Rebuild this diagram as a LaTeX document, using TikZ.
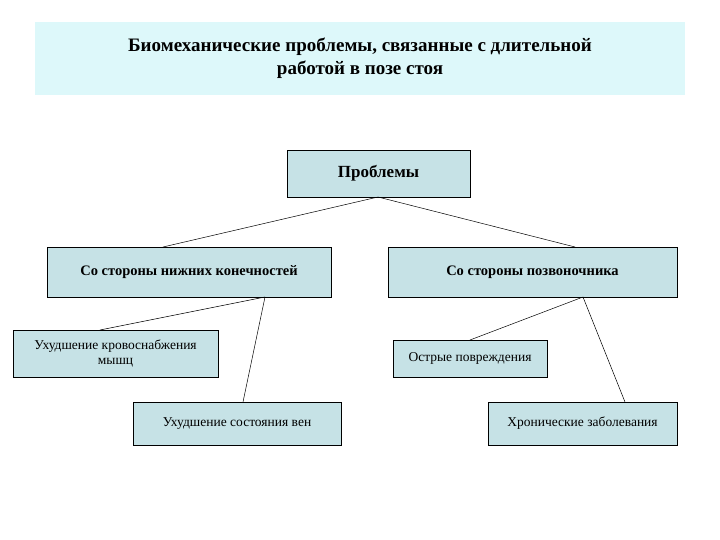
\documentclass[tikz,border=0pt]{standalone}
\usepackage{fontspec}
\setmainfont{Liberation Serif}
\begin{document}
\begin{tikzpicture}[x=1pt,y=-1pt,
  bx/.style={draw=black,fill=boxc,line width=0.8pt},
  ln/.style={draw=black,line width=0.5pt}]
\definecolor{boxc}{HTML}{C6E2E6}
\definecolor{titc}{HTML}{DDF8FA}
\useasboundingbox (0,0) rectangle (720,540);
\fill[white] (0,0) rectangle (720,540);
\fill[titc] (35,22) rectangle (685,95);
\node[font=\bfseries\fontsize{19}{23}\selectfont,align=center] (t) at (360,58) {Биомеханические проблемы, связанные с длительной\\работой в позе стоя};
\draw[bx] (287,150) rectangle (470,197);
\node[font=\bfseries\fontsize{17}{20}\selectfont] (p) at (378.5,173.5) {Проблемы};
\draw[bx] (47,247) rectangle (331,297);
\node[font=\bfseries\fontsize{14.5}{17}\selectfont] (l) at (189,272) {Со стороны нижних конечностей};
\draw[bx] (388,247) rectangle (677,297);
\node[font=\bfseries\fontsize{14.5}{17}\selectfont] (r) at (532.5,272) {Со стороны позвоночника};
\draw[bx] (13,330) rectangle (218,377);
\node[font=\fontsize{13.5}{15}\selectfont,align=center] (l1) at (115.5,353.5) {Ухудшение кровоснабжения\\мышц};
\draw[bx] (133,402) rectangle (341,445);
\node[font=\fontsize{13.5}{15}\selectfont] (l2) at (237,423.5) {Ухудшение состояния вен};
\draw[bx] (393,340) rectangle (547,377);
\node[font=\fontsize{13.5}{15}\selectfont] (r1) at (470,358.5) {Острые повреждения};
\draw[bx] (488,402) rectangle (677,445);
\node[font=\fontsize{13.5}{15}\selectfont] (r2) at (582.5,423.5) {Хронические заболевания};
\coordinate (pb) at (378,197);
\coordinate (lt) at (163,247); \coordinate (rt) at (575,247);
\coordinate (lb) at (265,297); \coordinate (rb) at (583,297);
\coordinate (l1t) at (100,330); \coordinate (l2t) at (243,402);
\coordinate (r1t) at (470,340); \coordinate (r2t) at (625,402);
\draw[ln] (pb)--(lt); \draw[ln] (pb)--(rt);
\draw[ln] (lb)--(l1t); \draw[ln] (lb)--(l2t);
\draw[ln] (rb)--(r1t); \draw[ln] (rb)--(r2t);
\end{tikzpicture}
\end{document}
